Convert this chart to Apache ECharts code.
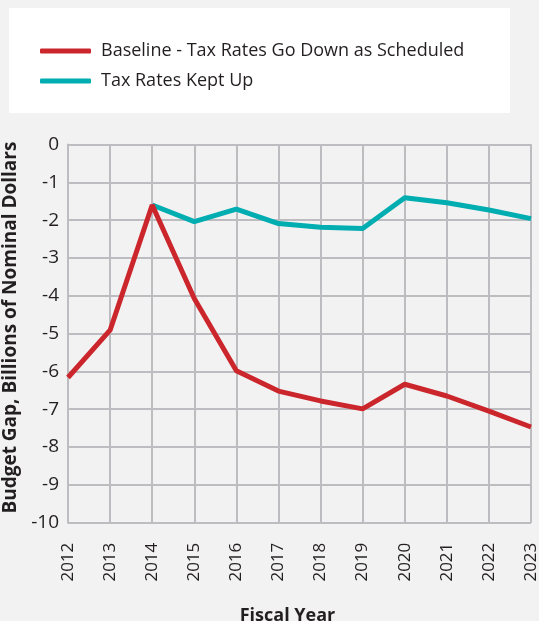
<!DOCTYPE html>
<html>
<head>
<meta charset="utf-8">
<script src="https://cdn.jsdelivr.net/npm/echarts@6/dist/echarts.min.js"></script>
<style>
  html, body { margin: 0; padding: 0; background: #f2f2f2; }
  #chart { width: 539px; height: 621px; }
</style>
</head>
<body>
<div id="chart"></div>
<script>
const years = ['2012', '2013', '2014', '2015', '2016', '2017', '2018', '2019', '2020', '2021', '2022', '2023']
const baseline = [-6.16, -4.91, -1.6, -4.07, -5.98, -6.52, -6.78, -6.99, -6.34, -6.65, -7.05, -7.47]
const keptUp = ['-', '-', -1.6, -2.04, -1.71, -2.09, -2.19, -2.22, -1.41, -1.54, -1.73, -1.96]
const seriesNames = ['Baseline - Tax Rates Go Down as Scheduled', 'Tax Rates Kept Up']

const font = 'Open Sans'
const gridColor = '#bdbdc1'

const chart = echarts.init(document.getElementById('chart'), null, { renderer: 'canvas' })
chart.setOption({
  backgroundColor: '#f2f2f2',
  animation: false,
  graphic: [{
    type: 'rect',
    z: -1,
    shape: { x: 9, y: 8, width: 501, height: 105 },
    style: { fill: '#ffffff' }
  }],
  legend: {
    data: seriesNames,
    orient: 'vertical',
    left: 35,
    top: 37,
    icon: 'roundRect',
    itemWidth: 51,
    itemHeight: 5,
    itemGap: 12,
    textStyle: { fontFamily: font, fontSize: 18, color: '#231f20', padding: [0, 0, 0, 5] }
  },
  grid: { left: 68, right: 8, top: 144.5, bottom: 98.3, containLabel: false, outerBoundsMode: 'none' },
  xAxis: {
    type: 'category',
    data: years,
    boundaryGap: false,
    name: 'Fiscal Year',
    nameLocation: 'middle',
    nameGap: 84,
    nameTextStyle: { fontFamily: font, fontSize: 18, fontWeight: 'bold', color: '#231f20', padding: [0, 24, 0, 0] },
    axisLine: { lineStyle: { color: gridColor, width: 2 } },
    axisTick: { show: false },
    axisLabel: { rotate: 90, fontFamily: font, fontSize: 17, color: '#231f20', margin: 20 },
    splitLine: { show: true, lineStyle: { color: gridColor, width: 2 } }
  },
  yAxis: {
    type: 'value',
    min: -10,
    max: 0,
    interval: 1,
    name: 'Budget Gap, Billions of Nominal Dollars',
    nameLocation: 'middle',
    nameGap: 36,
    nameTextStyle: { fontFamily: font, fontSize: 19, fontWeight: 'bold', color: '#231f20', padding: [0, 0, 0, 12] },
    axisLine: { show: true, lineStyle: { color: gridColor, width: 2 } },
    axisTick: { show: false },
    axisLabel: { fontFamily: font, fontSize: 19, color: '#231f20', margin: 9 },
    splitLine: { lineStyle: { color: gridColor, width: 2 } }
  },
  series: [
    {
      name: seriesNames[1],
      type: 'line',
      data: keptUp,
      showSymbol: false,
      color: '#00adb0',
      lineStyle: { width: 5, color: '#00adb0' },
      z: 2
    },
    {
      name: seriesNames[0],
      type: 'line',
      data: baseline,
      showSymbol: false,
      color: '#cc262d',
      lineStyle: { width: 5, color: '#cc262d' },
      z: 3
    }
  ]
})
</script>
</body>
</html>
